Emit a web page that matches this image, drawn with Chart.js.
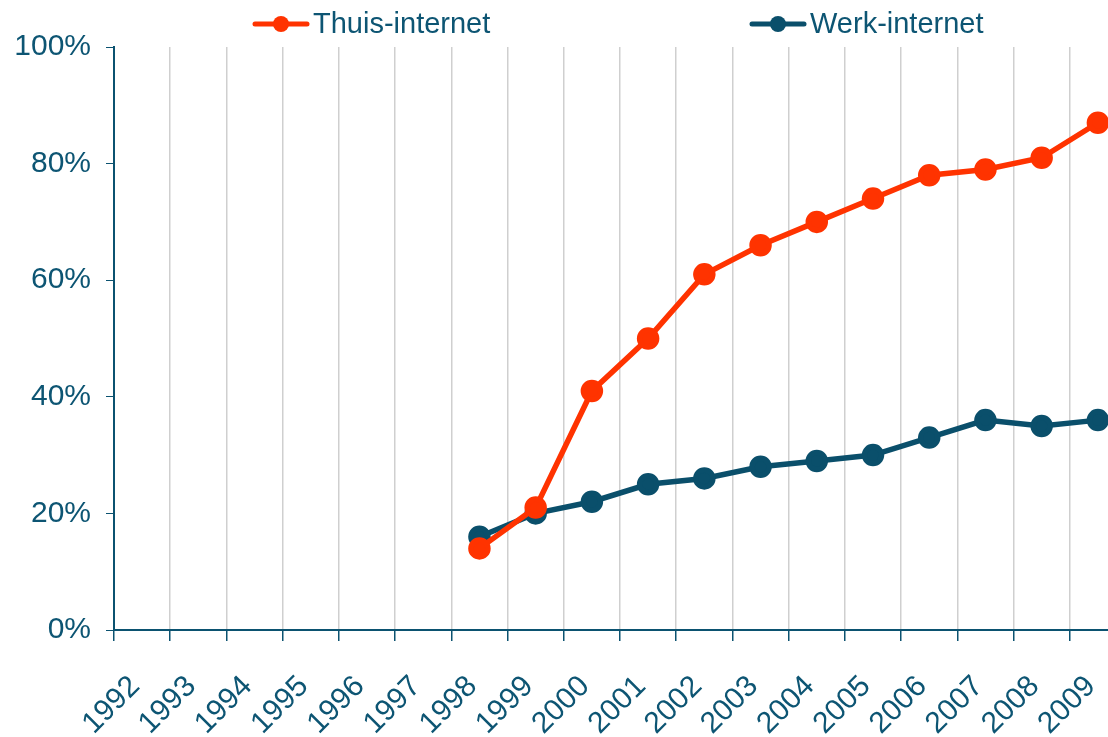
<!DOCTYPE html>
<html>
<head>
<meta charset="utf-8">
<script src="https://cdn.jsdelivr.net/npm/chart.js@4/dist/chart.umd.min.js"></script>
<style>
  html, body { margin: 0; padding: 0; overflow: hidden; background: #fff; }
  #wrap { width: 1140px; height: 737px; }
</style>
</head>
<body>
<div id="wrap"><canvas id="internetChart"></canvas></div>
<script>
// ---------------------------- data ----------------------------
const years = ['1992', '1993', '1994', '1995', '1996', '1997', '1998', '1999', '2000',
  '2001', '2002', '2003', '2004', '2005', '2006', '2007', '2008', '2009'];
const thuisInternet = [null, null, null, null, null, null, 14, 21, 41, 50, 61, 66, 70, 74, 78, 79, 81, 87];
const werkInternet = [null, null, null, null, null, null, 16, 20, 22, 25, 26, 28, 29, 30, 33, 36, 35, 36];
const yTicks = [0, 20, 40, 60, 80, 100];

const teal = '#0b5270';
const textTeal = '#0d5573';
const orange = '#ff3300';
const fontName = '"Liberation Sans", Arial, sans-serif';

// ---------------------------- legend on top ----------------------------
const topLegend = {
  id: 'topLegend',
  afterDraw(chart) {
    const ctx = chart.ctx;
    const spots = [255, 752];
    ctx.save();
    chart.data.datasets.forEach((ds, i) => {
      const x = spots[i];
      const y = 24;
      ctx.strokeStyle = ds.borderColor;
      ctx.lineWidth = 5;
      ctx.lineCap = 'round';
      ctx.beginPath();
      ctx.moveTo(x, y);
      ctx.lineTo(x + 52, y);
      ctx.stroke();
      ctx.fillStyle = ds.borderColor;
      ctx.beginPath();
      ctx.arc(x + 26, y, 8, 0, Math.PI * 2);
      ctx.fill();
      ctx.fillStyle = textTeal;
      ctx.font = '29px ' + fontName;
      ctx.textBaseline = 'middle';
      ctx.textAlign = 'left';
      ctx.fillText(ds.label, x + 58, y + 1);
    });
    ctx.restore();
  }
};

const config = {
  type: 'line',
  data: {
    labels: years,
    datasets: [{
      label: 'Thuis-internet',
      data: thuisInternet,
      borderColor: orange,
      backgroundColor: orange,
      borderWidth: 5.5,
      pointRadius: 8.5,
      pointHoverRadius: 8.5,
      tension: 0
    }, {
      label: 'Werk-internet',
      data: werkInternet,
      borderColor: '#0a4f6b',
      backgroundColor: '#0a4f6b',
      borderWidth: 5.5,
      pointRadius: 8.5,
      pointHoverRadius: 8.5,
      tension: 0
    }]
  },
  options: {
    responsive: true,
    maintainAspectRatio: false,
    animation: false,
    layout: { padding: { top: 47, right: 14, left: 0, bottom: 0 } },
    plugins: {
      legend: { display: false },
      tooltip: { enabled: false }
    },
    scales: {
      x: {
        offset: true,
        grid: {
          offset: true,
          color: '#cfcfcf',
          lineWidth: 1.5,
          tickColor: teal,
          tickLength: 11,
          drawTicks: true
        },
        border: { color: teal, width: 2 },
        ticks: {
          color: textTeal,
          font: { family: fontName, size: 30 },
          minRotation: 45,
          maxRotation: 45,
          autoSkip: false,
          padding: 28,
          labelOffset: -7
        },
        afterFit(scale) {
          scale.height = 107;
          scale.paddingLeft = 0;
          scale.paddingRight = 0;
        }
      },
      y: {
        min: 0,
        max: 100,
        afterBuildTicks(scale) { scale.ticks = yTicks.map(v => ({ value: v })); },
        grid: {
          drawOnChartArea: false,
          tickColor: teal,
          tickLength: 8
        },
        border: { color: teal, width: 2 },
        ticks: {
          color: textTeal,
          font: { family: fontName, size: 30 },
          padding: 15,
          callback: v => v + '%'
        },
        afterFit(scale) { scale.width = 114; }
      }
    }
  },
  plugins: [topLegend]
};

const internetChart = new Chart(document.getElementById('internetChart'), config);
</script>
</body>
</html>
